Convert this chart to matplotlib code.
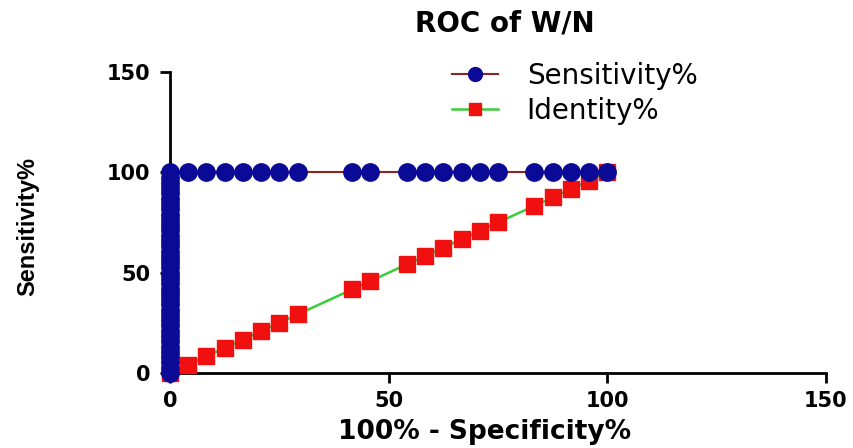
import numpy as np
import matplotlib
matplotlib.use("Agg")
import matplotlib.pyplot as plt

plt.rcParams['font.family'] = ['DejaVu Sans']

# sensitivity column at 100% - specificity = 0
sens_at_zero = [0, 2.6, 5.3, 7.9, 10.5, 13.2, 15.8, 18.4, 21.1, 23.7, 26.3,
                28.9, 31.6, 34.2, 36.8, 39.5, 42.1, 44.7, 47.4, 50, 52.6,
                55.3, 57.9, 60.5, 63.2, 65.8, 68.4, 71.1, 73.7, 76.3, 78.9,
                81.6, 84.2, 86.8, 89.5, 92.1, 94.7, 97.4, 100]

# 100% - specificity% cut-offs after sensitivity reaches 100
fpr_steps = [4.17, 8.33, 12.5, 16.67, 20.83, 25.0, 29.17, 41.67, 45.83,
             54.17, 58.33, 62.5, 66.67, 70.83, 75.0, 83.33, 87.5, 91.67,
             95.83, 100.0]
sens_steps = [100] * len(fpr_steps)

roc_x = [0] * len(sens_at_zero) + fpr_steps
roc_y = sens_at_zero + sens_steps

# reference line
ident_x = [0] + fpr_steps
ident_y = [0] + fpr_steps

fig = plt.figure(figsize=(8.54, 4.48), dpi=100)
ax = fig.add_axes([170 / 854, 1 - 373 / 448, 656 / 854, 301 / 448])

ax.plot(roc_x, roc_y, color='#8B2323', lw=1.5, marker='o', ms=12.5,
        mfc='#0A0A96', mec='#0A0A96', label='Sensitivity%',
        clip_on=False, zorder=4)
ax.plot(ident_x, ident_y, color='#3ACC3A', lw=1.8, marker='s', ms=11,
        mfc='#F01010', mec='#F01010', label='Identity%',
        clip_on=False, zorder=3)

ax.set_xlim(0, 150)
ax.set_ylim(0, 150)
ax.set_xticks([0, 50, 100, 150])
ax.set_yticks([0, 50, 100, 150])
for s in ['top', 'right']:
    ax.spines[s].set_visible(False)
for s in ['left', 'bottom']:
    ax.spines[s].set_linewidth(2)
ax.tick_params(width=2, length=7, labelsize=15)
ax.tick_params(axis='x', pad=6)
ax.tick_params(axis='y', pad=7)
for lab in ax.get_xticklabels() + ax.get_yticklabels():
    lab.set_fontweight('bold')

ax.set_xlabel('100% - Specificity%', fontsize=19, fontweight='bold')
ax.xaxis.set_label_coords((485 - 170) / 656, -(432 - 373) / 301)
ax.xaxis.label.set_va('center')
fig.text(28 / 854, 1 - 226 / 448, 'Sensitivity%', rotation=90,
         family='Liberation Sans', fontsize=17, fontweight='bold',
         ha='center', va='center')
fig.text(505 / 854, 1 - 24 / 448, 'ROC of W/N', fontsize=20,
         fontweight='bold', ha='center', va='center')

ax.legend(loc='upper left', bbox_to_anchor=(427 / 854, 1 - 37 / 448),
          bbox_transform=fig.transFigure, frameon=False, fontsize=20,
          handlelength=1.65, handletextpad=1.04, labelspacing=0.25,
          markerscale=0.8)

fig.savefig('out.png', dpi=100)
